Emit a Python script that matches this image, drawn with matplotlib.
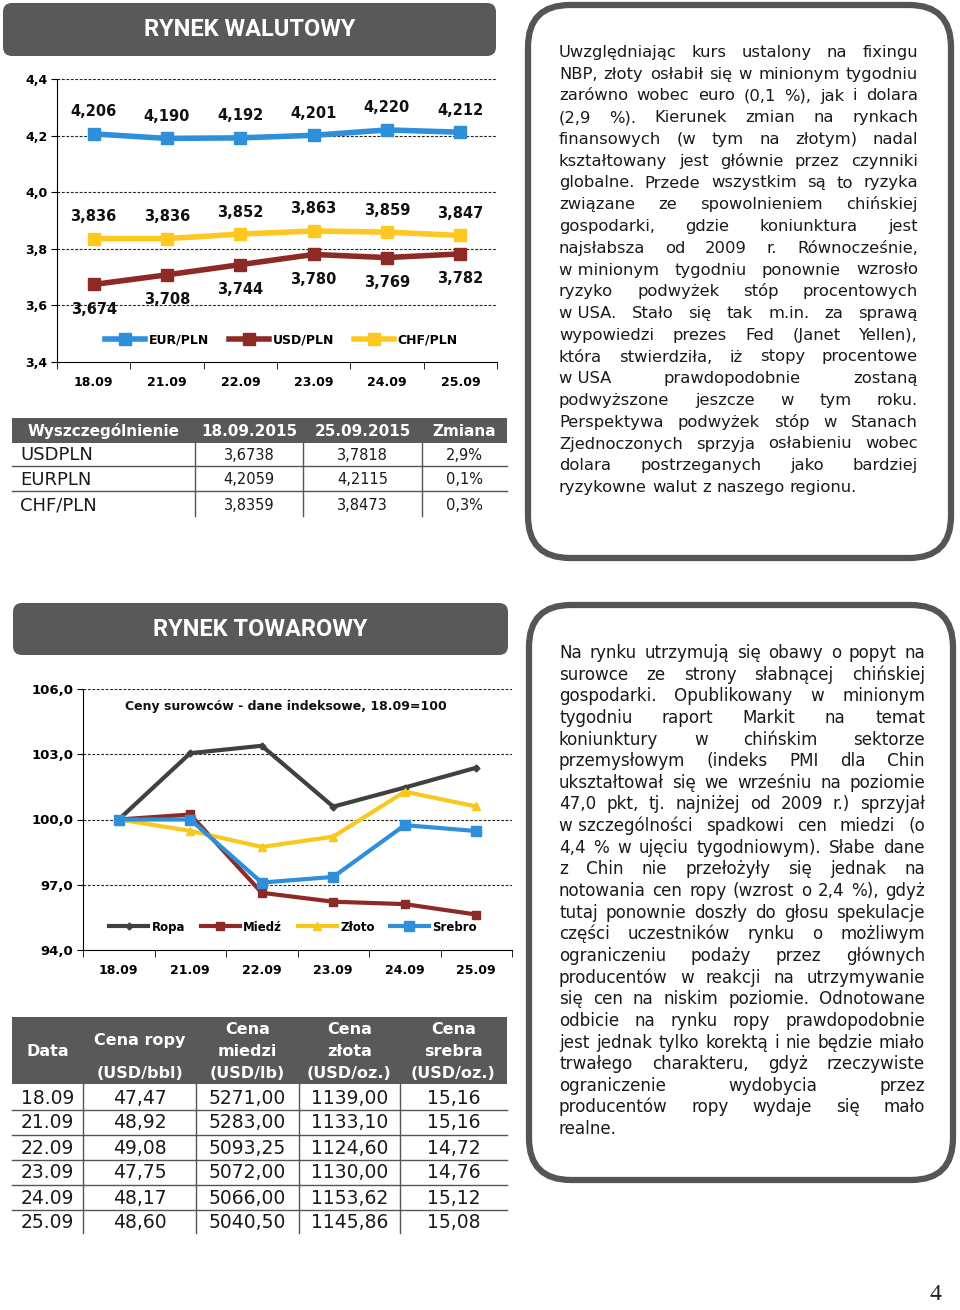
import matplotlib
matplotlib.use('Agg')
import matplotlib.pyplot as plt
from matplotlib.patches import FancyBboxPatch, Rectangle
import matplotlib.transforms as mtransforms

plt.rcParams['font.family'] = ['DejaVu Sans']

# ---------------- DATA ----------------
dates = ['18.09', '21.09', '22.09', '23.09', '24.09', '25.09']
eur_pln = [4.206, 4.190, 4.192, 4.201, 4.220, 4.212]
usd_pln = [3.674, 3.708, 3.744, 3.780, 3.769, 3.782]
chf_pln = [3.836, 3.836, 3.852, 3.863, 3.859, 3.847]
fx_yticks = [3.4, 3.6, 3.8, 4.0, 4.2, 4.4]

fx_header = ['Wyszczególnienie', '18.09.2015', '25.09.2015', 'Zmiana']
fx_rows = ['USDPLN', 'EURPLN', 'CHF/PLN']
fx_start = ['3,6738', '4,2059', '3,8359']
fx_end = ['3,7818', '4,2115', '3,8473']
fx_change = ['2,9%', '0,1%', '0,3%']

ropa_idx = [100.0, 103.05, 103.39, 100.59, 101.47, 102.38]
miedz_idx = [100.0, 100.23, 96.63, 96.22, 96.11, 95.63]
zloto_idx = [100.0, 99.48, 98.74, 99.21, 101.28, 100.60]
srebro_idx = [100.0, 100.0, 97.10, 97.36, 99.74, 99.47]
com_yticks = [94.0, 97.0, 100.0, 103.0, 106.0]

com_header = [['Data'], ['Cena ropy', '(USD/bbl)'], ['Cena', 'miedzi', '(USD/lb)'],
              ['Cena', 'złota', '(USD/oz.)'], ['Cena', 'srebra', '(USD/oz.)']]
ropa_price = ['47,47', '48,92', '49,08', '47,75', '48,17', '48,60']
miedz_price = ['5271,00', '5283,00', '5093,25', '5072,00', '5066,00', '5040,50']
zloto_price = ['1139,00', '1133,10', '1124,60', '1130,00', '1153,62', '1145,86']
srebro_price = ['15,16', '15,16', '14,72', '14,76', '15,12', '15,08']

text1 = [
    "Uwzględniając kurs ustalony na fixingu",
    "NBP, złoty osłabił się w minionym tygodniu",
    "zarówno wobec euro (0,1 %), jak i dolara",
    "(2,9 %). Kierunek zmian na rynkach",
    "finansowych (w tym na złotym) nadal",
    "kształtowany jest głównie przez czynniki",
    "globalne. Przede wszystkim są to ryzyka",
    "związane ze spowolnieniem chińskiej",
    "gospodarki, gdzie koniunktura jest",
    "najsłabsza od 2009 r. Równocześnie,",
    "w\u00a0minionym tygodniu ponownie wzrosło",
    "ryzyko podwyżek stóp procentowych",
    "w\u00a0USA. Stało się tak m.in. za sprawą",
    "wypowiedzi prezes Fed (Janet Yellen),",
    "która stwierdziła, iż stopy procentowe",
    "w\u00a0USA prawdopodobnie zostaną",
    "podwyższone jeszcze w tym roku.",
    "Perspektywa podwyżek stóp w Stanach",
    "Zjednoczonych sprzyja osłabieniu wobec",
    "dolara postrzeganych jako bardziej",
    "ryzykowne walut z naszego regionu.",
]
text2 = [
    "Na rynku utrzymują się obawy o popyt na",
    "surowce ze strony słabnącej chińskiej",
    "gospodarki. Opublikowany w minionym",
    "tygodniu raport Markit na temat",
    "koniunktury w chińskim sektorze",
    "przemysłowym (indeks PMI dla Chin",
    "ukształtował się we wrześniu na poziomie",
    "47,0 pkt, tj. najniżej od 2009 r.) sprzyjał",
    "w\u00a0szczególności spadkowi cen miedzi (o",
    "4,4 % w ujęciu tygodniowym). Słabe dane",
    "z Chin nie przełożyły się jednak na",
    "notowania cen ropy (wzrost o 2,4 %), gdyż",
    "tutaj ponownie doszły do głosu spekulacje",
    "części uczestników rynku o możliwym",
    "ograniczeniu podaży przez głównych",
    "producentów w reakcji na utrzymywanie",
    "się cen na niskim poziomie. Odnotowane",
    "odbicie na rynku ropy prawdopodobnie",
    "jest jednak tylko korektą i nie będzie miało",
    "trwałego charakteru, gdyż rzeczywiste",
    "ograniczenie wydobycia przez",
    "producentów ropy wydaje się mało",
    "realne.",
]

# ---------------- FIGURE ----------------
W, H = 960, 1310
fig = plt.figure(figsize=(9.6, 13.1), dpi=100)
fig.patch.set_facecolor('white')

bg = fig.add_axes([0, 0, 1, 1])
bg.set_xlim(0, W)
bg.set_ylim(H, 0)
bg.axis('off')
bg.patch.set_visible(False)

DARK = '#595959'
EUR_C = '#2E8FDA'
USD_C = '#8E2A25'
CHF_C = '#FFC820'
ROPA_C = '#404040'

renderer = fig.canvas.get_renderer()
_cache = {}


def text_w(s, fs):
    key = (s, fs)
    if key not in _cache:
        t = bg.text(0, 0, s, fontsize=fs)
        _cache[key] = t.get_window_extent(renderer).width
        t.remove()
    return _cache[key]


def justify(lines, x0, x1, y0, dy, color='#1a1a1a'):
    ref = 10
    maxw = max(text_w(l.replace('\u00a0', ' '), ref) for l in lines)
    fs = ref * (x1 - x0) * 0.985 / maxw
    space = text_w('a a', fs) - text_w('aa', fs)
    for i, line in enumerate(lines):
        words = line.split(' ')
        ws = [text_w(w, fs) for w in words]
        last = (i == len(lines) - 1)
        if last or len(words) == 1:
            gap = space
        else:
            gap = (x1 - x0 - sum(ws)) / (len(words) - 1)
        x = x0
        y = y0 + i * dy
        for w, wd in zip(words, ws):
            bg.text(x, y, w, fontsize=fs, ha='left', va='baseline', color=color)
            x += wd + gap


# header boxes
for (x0, y0, w, h, title) in [(3, 3, 493, 53, 'RYNEK WALUTOWY'),
                              (13, 603, 495, 52, 'RYNEK TOWAROWY')]:
    bg.add_patch(FancyBboxPatch((x0, y0), w, h, boxstyle='round,pad=0,rounding_size=9',
                                fc=DARK, ec='none'))
    bg.text(x0 + w / 2, y0 + h / 2, title, color='white', fontsize=17,
            family=['Roboto', 'DejaVu Sans'], fontweight='bold', ha='center', va='center')

# rounded text boxes
for (x0, y0, w, h) in [(528, 5, 423, 553), (529, 605, 424, 575)]:
    bg.add_patch(FancyBboxPatch((x0, y0), w, h, boxstyle='round,pad=0,rounding_size=42',
                                fc='white', ec='#555555', lw=4.5))

justify(text1, 559, 918, 57, 21.75)
justify(text2, 559, 925, 658, 21.64)

# page number
bg.text(935, 1300, '4', fontsize=17, family=['Liberation Serif', 'DejaVu Serif'],
        ha='center', va='baseline', color='#222222')

# ---------------- CHART 1 ----------------
ax1 = fig.add_axes([57 / W, 1 - 362 / H, 440 / W, 283 / H])
ax1.patch.set_visible(False)
xs = list(range(len(dates)))
ax1.plot(xs, eur_pln, color=EUR_C, lw=4, marker='s', ms=8, label='EUR/PLN', zorder=3)
ax1.plot(xs, usd_pln, color=USD_C, lw=4, marker='s', ms=8, label='USD/PLN', zorder=3)
ax1.plot(xs, chf_pln, color=CHF_C, lw=4, marker='s', ms=8, label='CHF/PLN', zorder=3)
for series, off in [(eur_pln, 22), (chf_pln, 22), (usd_pln, -25)]:
    for i, v in zip(xs, series):
        ax1.annotate(f'{v:.3f}'.replace('.', ','), (i, v), xytext=(0, off),
                     textcoords='offset pixels', ha='center', va='center',
                     fontsize=10.5, fontweight='bold', color='#111111')
ax1.set_xlim(-0.5, 5.5)
ax1.set_ylim(3.4, 4.4)
ax1.set_yticks(fx_yticks)
ax1.set_yticklabels([f'{v:.1f}'.replace('.', ',') for v in fx_yticks],
                    fontsize=9, fontweight='bold')
for y in fx_yticks[1:]:
    ax1.axhline(y, color='#222222', lw=0.8, ls=(0, (2.5, 1.5)), zorder=1)
ax1.set_xticks(xs)
ax1.set_xticklabels(dates, fontsize=9, fontweight='bold')
ax1.set_xticks([x - 0.5 for x in range(7)], minor=True)
ax1.tick_params(axis='x', which='major', length=0, pad=10)
ax1.tick_params(axis='x', which='minor', length=5, direction='out')
ax1.tick_params(axis='y', length=4, direction='out', pad=3)
for s in ['top', 'right']:
    ax1.spines[s].set_visible(False)
ax1.legend(loc='center', bbox_to_anchor=(0.51, 0.078), ncol=3, frameon=False,
           prop={'size': 9, 'weight': 'bold'}, handlelength=3.2, columnspacing=1.6,
           handletextpad=0.3, borderaxespad=0)

# ---------------- TABLE 1 ----------------
cols1 = [12, 195, 303, 422, 507]
bg.add_patch(Rectangle((12, 418), 495, 25, fc=DARK, ec='none'))
for j, h in enumerate(fx_header):
    bg.text((cols1[j] + cols1[j + 1]) / 2, 431, h, color='white', fontsize=11,
            fontweight='bold', ha='center', va='center')
row_y1 = [455, 480, 506]
for r, y in enumerate(row_y1):
    bg.text(20, y, fx_rows[r], fontsize=13, ha='left', va='center', color='#1a1a1a')
    for j, vals in enumerate([fx_start, fx_end, fx_change]):
        bg.text((cols1[j + 1] + cols1[j + 2]) / 2, y, vals[r], fontsize=10.5,
                ha='center', va='center', color='#1a1a1a')
for y in [466, 491]:
    bg.plot([12, 507], [y, y], color='#555555', lw=1)
for x in cols1[1:-1]:
    bg.plot([x, x], [443, 516], color='#555555', lw=1)

# ---------------- CHART 2 ----------------
ax2 = fig.add_axes([83 / W, 1 - 950 / H, 429 / W, 261 / H])
ax2.patch.set_visible(False)
ax2.plot(xs, ropa_idx, color=ROPA_C, lw=3, marker='D', ms=3.5, label='Ropa', zorder=3)
ax2.plot(xs, miedz_idx, color=USD_C, lw=3, marker='s', ms=6, label='Miedź', zorder=3)
ax2.plot(xs, zloto_idx, color='#F8C81E', lw=3, marker='^', ms=6, label='Złoto', zorder=3)
ax2.plot(xs, srebro_idx, color=EUR_C, lw=3, marker='s', ms=7, label='Srebro', zorder=3)
ax2.set_xlim(-0.5, 5.5)
ax2.set_ylim(94, 106)
ax2.set_yticks(com_yticks)
ax2.set_yticklabels([f'{v:.1f}'.replace('.', ',') for v in com_yticks],
                    fontsize=9.5, fontweight='bold')
for y in com_yticks[1:]:
    ax2.axhline(y, color='#222222', lw=0.8, ls=(0, (2.5, 1.5)), zorder=1)
ax2.set_xticks(xs)
ax2.set_xticklabels(dates, fontsize=9, fontweight='bold')
shift = mtransforms.ScaledTranslation(-18 / 100, 0, fig.dpi_scale_trans)
for lbl in ax2.get_xticklabels():
    lbl.set_transform(lbl.get_transform() + shift)
ax2.set_xticks([x - 0.5 for x in range(7)], minor=True)
ax2.tick_params(axis='x', which='major', length=0, pad=10)
ax2.tick_params(axis='x', which='minor', length=5, direction='out')
ax2.tick_params(axis='y', length=4, direction='out', pad=3)
for s in ['top', 'right']:
    ax2.spines[s].set_visible(False)
ax2.text((125 - 83) / 429, (950 - 707) / 261, 'Ceny surowców - dane indeksowe, 18.09=100',
         transform=ax2.transAxes, fontsize=9, fontweight='bold', ha='left', va='center',
         color='#111111')
ax2.legend(loc='center', bbox_to_anchor=(0.49, 0.088), ncol=4, frameon=False,
           prop={'size': 8.5, 'weight': 'bold'}, handlelength=3.3, columnspacing=1.3,
           handletextpad=0.3, borderaxespad=0)

# ---------------- TABLE 2 ----------------
cols2 = [12, 83, 196, 299, 400, 507]
bg.add_patch(Rectangle((12, 1017), 495, 67, fc=DARK, ec='none'))
header_y = {1: [1052], 2: [1040, 1074], 3: [1029, 1051, 1074]}
for j, lines in enumerate(com_header):
    cx = (cols2[j] + cols2[j + 1]) / 2
    for line, y in zip(lines, header_y[len(lines)]):
        bg.text(cx, y, line, color='white', fontsize=11.5, fontweight='bold',
                ha='center', va='center')
table_cols = [dates, ropa_price, miedz_price, zloto_price, srebro_price]
for r in range(len(dates)):
    y = 1098 + 25 * r
    for j, col in enumerate(table_cols):
        bg.text((cols2[j] + cols2[j + 1]) / 2, y, col[r], fontsize=13.5,
                ha='center', va='center', color='#1a1a1a')
for r in range(5):
    y = 1109.5 + 25 * r
    bg.plot([12, 507], [y, y], color='#555555', lw=1)
for x in cols2[1:-1]:
    bg.plot([x, x], [1084, 1233], color='#555555', lw=1)

fig.savefig('out.png', dpi=100, facecolor='white')
